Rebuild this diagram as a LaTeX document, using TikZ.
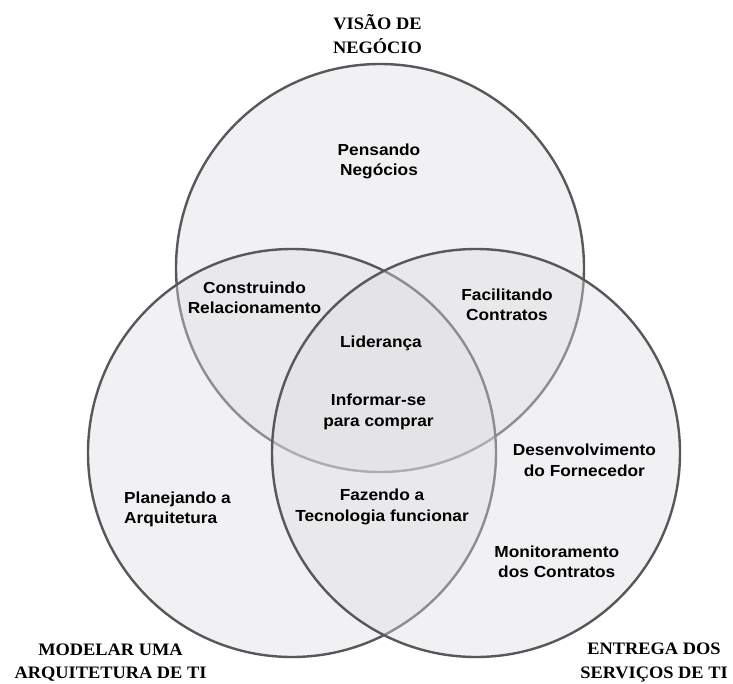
\documentclass[tikz,border=0pt]{standalone}
\usepackage{fontspec}
\newfontfamily\labfont[FakeStretch=1.08]{Liberation Sans}
\newfontfamily\headfont[FakeStretch=1.05]{Liberation Serif}
\definecolor{vennline}{RGB}{88,88,90}
\definecolor{vennfill}{RGB}{222,221,225}
\begin{document}
\begin{tikzpicture}[x=1pt,y=-1pt,
  venn/.style={circle,draw=vennline,line width=2.4pt,fill=vennfill,
    fill opacity=0.4,draw opacity=1,inner sep=0pt,minimum size=408pt},
  lab/.style={align=center,inner sep=0pt,text=black,
    font=\labfont\bfseries\fontsize{16}{20.5}\selectfont},
  head/.style={align=center,inner sep=0pt,text=black,
    font=\headfont\bfseries\fontsize{17.5}{23.5}\selectfont}]
\useasboundingbox[fill=white] (0,0) rectangle (733,684);

% the three sets, drawn in this order so later fills tone down earlier outlines
\node[venn] (negocio) at (380,268) {};
\node[venn] (arquitetura) at (292,453) {};
\node[venn] (servicos) at (476,453) {};

% set titles
\node[head] (tneg) at (377.5,34) {VISÃO DE\\NEGÓCIO};
\node[head] (tarq) at (110.5,662.5) {MODELAR UMA\\ARQUITETURA DE TI};
\node[head] (tser) at (654,662.5) {ENTREGA DOS\\SERVIÇOS DE TI};

% region labels
\node[lab] (pens) at (379,161.5) {Pensando\\Negócios};
\node[lab] (rel) at (254.5,298) {Construindo\\Relacionamento};
\node[lab] (fac) at (507,305) {Facilitando\\Contratos};
\node[lab] (lid) at (381,343.4) {Liderança};
\node[lab] (inf) at (378.5,412) {Informar-se\\para comprar};
\node[lab] (des) at (584.4,460.3) {Desenvolvimento\\do Fornecedor};
\node[lab,align=left,anchor=west] (plan) at (124,509.4) {Planejando a\\Arquitetura};
\node[lab] (faz) at (382,507) {Fazendo a\\Tecnologia funcionar};
\node[lab] (mon) at (556.8,562) {Monitoramento\\dos Contratos};
\end{tikzpicture}
\end{document}
